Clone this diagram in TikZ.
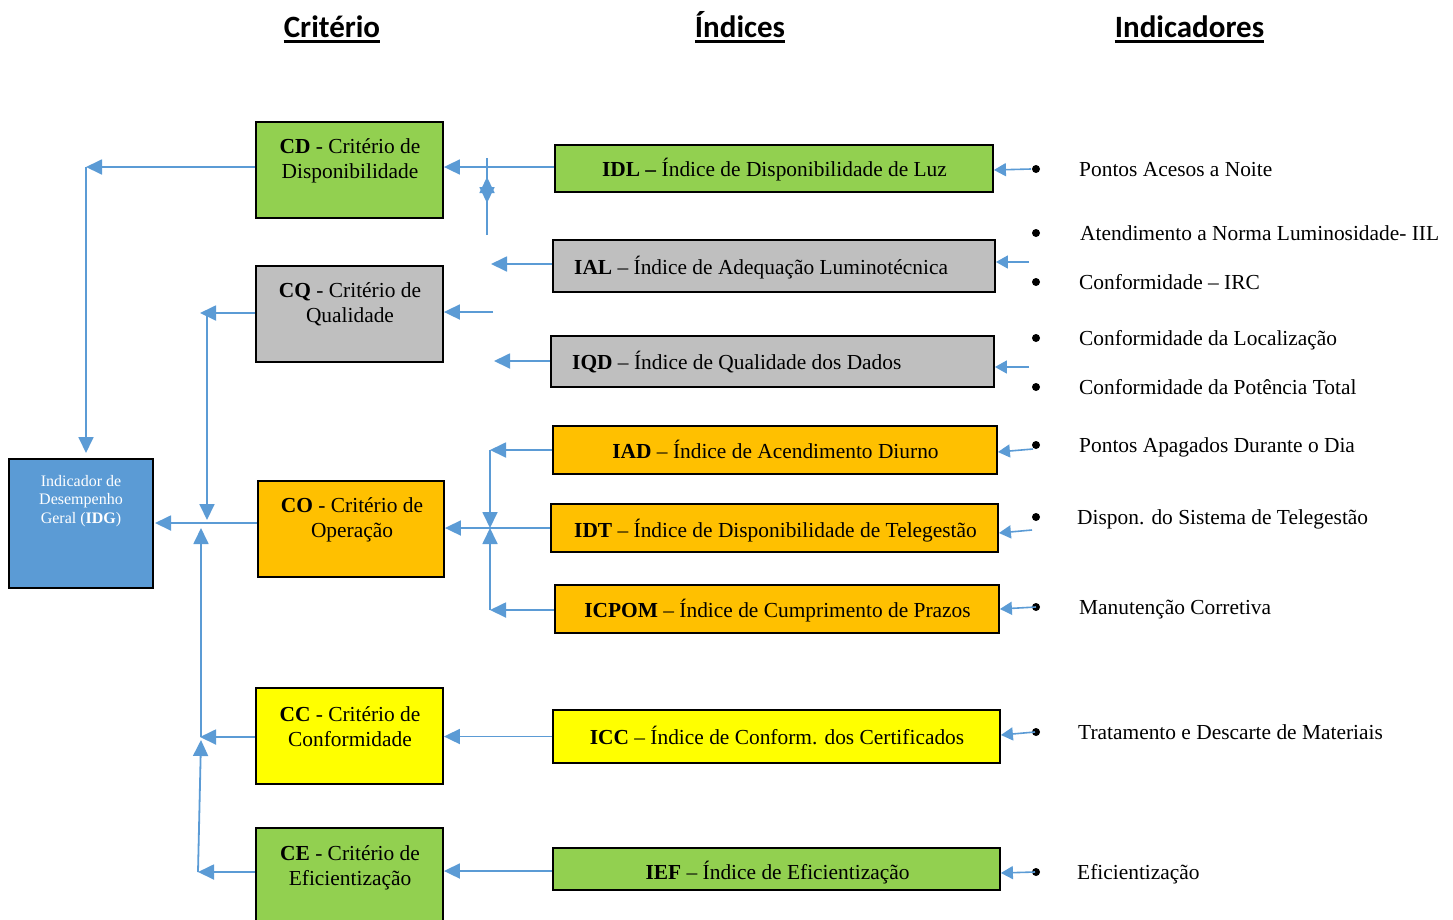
\documentclass[tikz,border=0pt]{standalone}
\usepackage{fontspec}
\setmainfont{Liberation Serif}
\newfontfamily\hdrfont{Carlito}
\usetikzlibrary{arrows.meta,calc}
\definecolor{lblue}{HTML}{5B9BD5}
\definecolor{cgreen}{HTML}{92D050}
\definecolor{cgray}{HTML}{BFBFBF}
\definecolor{corange}{HTML}{FFC000}
\definecolor{cyellow}{HTML}{FFFF00}
\definecolor{cblue}{HTML}{5B9BD5}
\newcommand\mysz{\fontsize{21.4}{25}\selectfont}
\newcommand\smsz{\fontsize{16}{18.5}\selectfont}
\begin{document}
\begin{tikzpicture}[x=1pt,y=-1pt,
  box/.style={draw=black, line width=1.8pt, inner sep=0pt},
  crit/.style={box, minimum width=187pt, minimum height=96pt},
  idx/.style={box, minimum height=48pt},
  txt/.style={font=\mysz, inner sep=0pt, align=center},
  itxt/.style={font=\mysz, inner sep=0pt, anchor=base},
  ltxt/.style={font=\mysz, inner sep=0pt, anchor=base west},
  rtxt/.style={font=\mysz, inner sep=0pt, anchor=base west},
  hdr/.style={font=\hdrfont\bfseries\fontsize{31}{36}\selectfont, inner sep=0pt, anchor=base},
  arr/.style={draw=lblue, line width=1.8pt, -{Triangle[length=16pt,width=15pt]}},
  rarr/.style={draw=lblue, line width=1.6pt, -{Triangle[length=12pt,width=13pt]}},
  bul/.style={circle, fill=black, inner sep=0pt, minimum size=8pt}
]
\useasboundingbox (0,0) rectangle (1453,919);
\clip (0,0) rectangle (1453,919);

% headers
\node[hdr] (h1) at (332,37) {Critério};
\node[hdr] (h2) at (740,37) {Índices};
\node[hdr] (h3) at (1189.5,37) {Indicadores};
\foreach \h in {h1,h2,h3}
  \draw[line width=2.5pt] ([yshift=-4.5pt]\h.base west) -- ([yshift=-4.5pt]\h.base east);

% criterion boxes
\node[crit, fill=cgreen] (cd) at (349.5,170) {};
\node[crit, fill=cgray] (cq) at (349.5,314) {};
\node[crit, fill=corange, minimum width=186pt] (co) at (351,529) {};
\node[crit, fill=cyellow] (cc) at (349.5,736) {};
\node[crit, fill=cgreen, minimum height=100pt] (ce) at (349.5,878) {};
\node[txt] (cdt) at (350,161) {\textbf{CD} - Critério de\\Disponibilidade};
\node[txt] (cqt) at (350,304.5) {\textbf{CQ} - Critério de\\Qualidade};
\node[txt] (cot) at (352,520) {\textbf{CO} - Critério de\\Operação};
\node[txt] (cct) at (350,727) {\textbf{CC} - Critério de\\Conformidade};
\node[txt] (cet) at (350,868) {\textbf{CE} - Critério de\\Eficientização};

% IDG
\node[box, fill=cblue, minimum width=144pt, minimum height=129pt] (idg) at (81,523.5) {};
\node[inner sep=0pt, align=center, font=\smsz, text=white] (idgt) at (81,501) {Indicador de\\Desempenho\\Geral (\textbf{IDG})};

% index boxes
\node[idx, fill=cgreen, minimum width=438pt, minimum height=47pt] (idl) at (774,168.5) {};
\node[idx, fill=cgray, minimum width=442pt, minimum height=52pt] (ial) at (774,266) {};
\node[idx, fill=cgray, minimum width=443pt, minimum height=51pt] (iqd) at (772.5,361.5) {};
\node[idx, fill=corange, minimum width=444pt] (iad) at (775,450) {};
\node[idx, fill=corange, minimum width=447pt] (idt) at (774.5,528) {};
\node[idx, fill=corange, minimum width=444pt] (icpom) at (777,609) {};
\node[idx, fill=cyellow, minimum width=447pt, minimum height=53pt] (icc) at (776.5,736.5) {};
\node[idx, fill=cgreen, minimum width=447pt, minimum height=42pt] (ief) at (776.5,869) {};
\node[itxt] (idlt) at (774.5,176.5) {\textbf{IDL –} Índice de Disponibilidade de Luz};
\node[ltxt] (ialt) at (574,274.5) {\textbf{IAL} – Índice de Adequação Luminotécnica};
\node[ltxt] (iqdt) at (572,369.5) {\textbf{IQD} – Índice de Qualidade dos Dados};
\node[itxt] (iadt) at (775.5,458.5) {\textbf{IAD} – Índice de Acendimento Diurno};
\node[itxt] (idtt) at (775.5,537.5) {\textbf{IDT} – Índice de Disponibilidade de Telegestão};
\node[itxt] (icpomt) at (777.5,617.5) {\textbf{ICPOM} – Índice de Cumprimento de Prazos};
\node[itxt] (icct) at (777,744.5) {\textbf{ICC} – Índice de Conform. dos Certificados};
\node[itxt] (ieft) at (777.5,879.5) {\textbf{IEF} – Índice de Eficientização};

% bullets and indicator texts
\node[bul] (b1) at (1036,169) {};
\node[bul] (b2) at (1036,233) {};
\node[bul] (b3) at (1036,282) {};
\node[bul] (b4) at (1036,338) {};
\node[bul] (b5) at (1036,387) {};
\node[bul] (b6) at (1036,445) {};
\node[bul] (b7) at (1036,517) {};
\node[bul] (b8) at (1036,607) {};
\node[bul] (b9) at (1036,732) {};
\node[bul] (b10) at (1036,872) {};
\node[rtxt] (t1) at (1079,176) {Pontos Acesos a Noite};
\node[rtxt] (t2) at (1080,240) {Atendimento a Norma Luminosidade- IIL};
\node[rtxt] (t3) at (1079,289) {Conformidade – IRC};
\node[rtxt] (t4) at (1079,345) {Conformidade da Localização};
\node[rtxt] (t5) at (1079,394) {Conformidade da Potência Total};
\node[rtxt] (t6) at (1079,452) {Pontos Apagados Durante o Dia};
\node[rtxt] (t7) at (1077,524) {Dispon. do Sistema de Telegestão};
\node[rtxt] (t8) at (1079,614) {Manutenção Corretiva};
\node[rtxt] (t9) at (1078,739) {Tratamento e Descarte de Materiais};
\node[rtxt] (t10) at (1077,879) {Eficientização};

% right-side arrows
\coordinate (r1) at (1031,169);
\coordinate (r2) at (1029,262);
\coordinate (r3) at (1029,367);
\coordinate (r4) at (1033,449);
\coordinate (r5) at (1032,530);
\coordinate (r6) at (1036,607);
\coordinate (r7) at (1035,732);
\coordinate (r8) at (1035,872);
\draw[rarr] (r1) -- (idl.east |- 0,170);
\draw[rarr] (r2) -- (ial.east |- r2);
\draw[rarr] (r3) -- (iqd.east |- r3);
\draw[rarr] (r4) -- (iad.east |- 0,452);
\draw[rarr] (r5) -- (idt.east |- 0,533);
\draw[rarr] (r6) -- (icpom.east |- 0,609);
\draw[rarr] (r7) -- (icc.east |- 0,735);
\draw[rarr] (r8) -- (ief.east |- 0,873);

% index -> criterion connectors
\draw[arr] (idl.west |- 0,167) -- (cd.east |- 0,167);
\coordinate (dA) at (487,158);
\coordinate (dB) at (487,235);
\coordinate (dUp) at (487,177);
\coordinate (dDn) at (487,203);
\draw[arr] (dB) -- (dUp);
\draw[arr] (dA) -- (dDn);
\coordinate (ialE) at (491,264);
\draw[arr] (ial.west |- ialE) -- (ialE);
\coordinate (cqS) at (493,312);
\draw[arr] (cqS) -- (cq.east |- cqS);
\coordinate (iqdE) at (494,361);
\draw[arr] (iqd.west |- iqdE) -- (iqdE);
\coordinate (j1) at (490,450);
\coordinate (jc) at (490,528);
\coordinate (j2) at (490,610);
\draw[arr] (iad.west) -- (j1);
\draw[arr] (j1) -- (jc);
\draw[arr] (idt.west) -- (co.east |- idt.west);
\draw[arr] (icpom.west |- j2) -- (j2);
\draw[arr] (j2) -- (jc);
\draw[arr] (icc.west) -- (cc.east |- icc.west);
\draw[arr] (ief.west |- 0,871) -- (ce.east |- 0,871);

% criterion -> IDG connectors
\coordinate (k1) at (86,167);
\coordinate (k1b) at (86,453);
\draw[arr] (cd.west |- k1) -- (k1);
\draw[arr] (k1) -- (k1b);
\coordinate (k2) at (207,313);
\coordinate (k2t) at (200,313);
\coordinate (k2b) at (207,520);
\draw[arr] (cq.west |- k2) -- (k2t);
\draw[arr] (k2) -- (k2b);
\coordinate (k3) at (155,523);
\draw[arr] (co.west |- k3) -- (k3);
\coordinate (m1) at (201,737);
\coordinate (m1t) at (201,528);
\draw[arr] (m1) -- (m1t);
\coordinate (m2) at (200,737);
\draw[arr] (cc.west |- m2) -- (m2);
\coordinate (m3) at (198,872);
\coordinate (m3t) at (201,740);
\draw[arr] (ce.west |- m3) -- (m3);
\draw[arr] (m3) -- (m3t);
\end{tikzpicture}
\end{document}
